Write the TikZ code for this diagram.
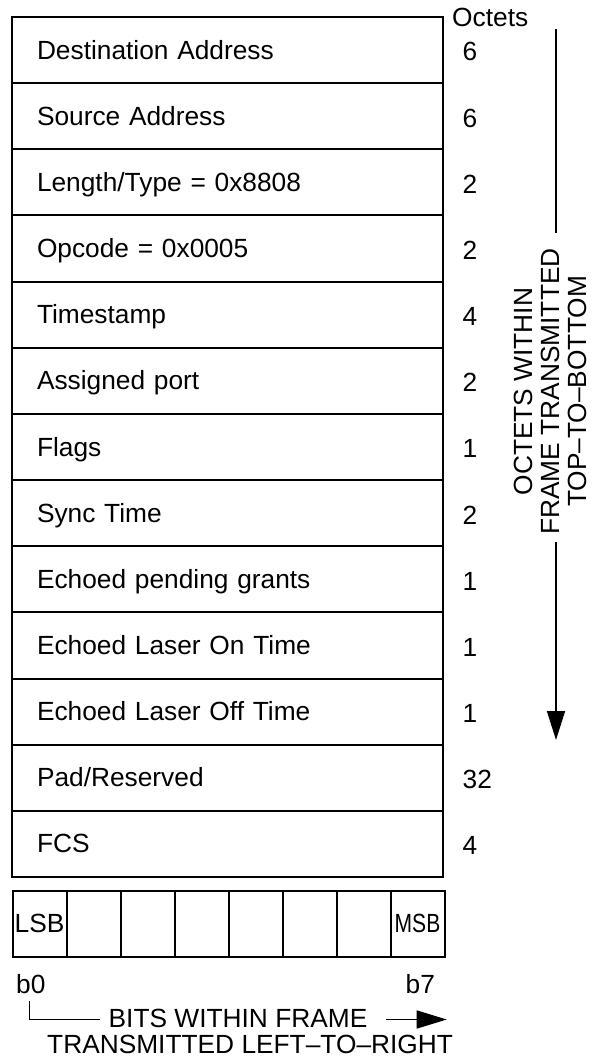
\documentclass[tikz,border=0pt]{standalone}
\usepackage{fontspec}
\setmainfont{Liberation Sans}
\usepackage{graphicx}
\usetikzlibrary{arrows.meta}
\begin{document}
\begin{tikzpicture}[x=1pt,y=-1pt,
  every node/.style={font=\fontsize{26.3}{30}\selectfont},
  rowbox/.style={draw,line width=2pt,minimum width=431pt,minimum height=66.154pt,
     inner xsep=25pt,inner ysep=0pt,text width=381pt,align=left,
     text height=19pt,text depth=1pt},
  octnum/.style={anchor=base west,inner sep=0pt},
  bitcell/.style={draw,line width=2pt,minimum width=54pt,minimum height=65.5pt,inner sep=0pt},
  plain/.style={anchor=base west,inner sep=0pt},
  arr/.style={line width=1.6pt},
  arrtip/.style={line width=1.6pt,-{Triangle[length=29pt,width=18pt]}}
]
\useasboundingbox (0,0) rectangle (592,1057);
\newcommand\frow[3]{%
  \node[rowbox] (r#1) at (227.5,{17+(#1-1)*66.154+33.077}) {#2};
  \node[octnum] (o#1) at (462.5,{17+(#1-1)*66.154+44}) {#3};
}
\frow{1}{Destination Address}{6}
\frow{2}{Source Address}{6}
\frow{3}{Length/Type = 0x8808}{2}
\frow{4}{Opcode = 0x0005}{2}
\frow{5}{Timestamp}{4}
\frow{6}{Assigned port}{2}
\frow{7}{Flags}{1}
\frow{8}{Sync Time}{2}
\frow{9}{Echoed pending grants}{1}
\frow{10}{Echoed Laser On Time}{1}
\frow{11}{Echoed Laser Off Time}{1}
\frow{12}{Pad/Reserved}{32}
\frow{13}{FCS}{4}
\node[plain] (octets) at (452,27) {Octets};
% vertical arrow
\coordinate (vt1) at (556,29);
\coordinate (vt2) at (556,233);
\coordinate (vb1) at (556,542);
\coordinate (vb2) at (556,740);
\draw[arr] (vt1) -- (vt2);
\draw[arrtip] (vb1) -- (vb2);
\node[rotate=90,align=center,inner sep=0pt,font=\fontsize{26.3}{27}\selectfont] (vtext) at (550,391.5)
  {OCTETS WITHIN\\FRAME TRANSMITTED\\TOP–TO–BOTTOM};
% bit cells
\foreach \k in {1,...,8} {
  \node[bitcell] (b\k) at ({12.5+27+54*(\k-1)},923.75) {};
}
\node[inner sep=0pt] (lsb) at (b1.center) {LSB};
\node[inner sep=0pt] (msb) at (b8.center) {\scalebox{0.8}[1]{MSB}};
\node[plain] (bzero) at (16,993) {b0};
\node[plain] (bseven) at (405.5,993) {b7};
% bottom connector
\coordinate (h0) at (29.3,1000.5);
\coordinate (h1) at (29.3,1019.5);
\coordinate (h2) at (100,1019.5);
\draw[arr] (h0) -- (h1) -- (h2);
\node[plain] (bits) at (108.5,1027) {BITS WITHIN FRAME};
\coordinate (h3) at (386,1019.5);
\coordinate (h4) at (446.7,1019.5);
\draw[line width=1.6pt,-{Triangle[length=30pt,width=18pt]}] (h3) -- (h4);
\node[plain] (trans) at (47,1053) {TRANSMITTED LEFT–TO–RIGHT};
\end{tikzpicture}
\end{document}
